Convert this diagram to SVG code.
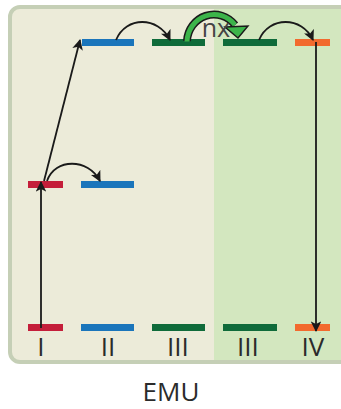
<svg xmlns="http://www.w3.org/2000/svg" width="341" height="409" viewBox="0 0 341 409">
<defs>
<marker id="ah" viewBox="0 0 10 10" refX="9" refY="5" markerWidth="6.5" markerHeight="6" orient="auto" markerUnits="strokeWidth">
<path d="M0,0 L10,5 L0,10 L2.5,5 Z" fill="#1a1a1a"/>
</marker>
<clipPath id="pc"><rect x="10" y="7" width="345" height="355" rx="10"/></clipPath>
</defs>
<style>
.bar{stroke:none}
.red{fill:#c41e3a}
.blue{fill:#1a75bb}
.dg{fill:#0f6b3a}
.or{fill:#f26a2e}
.lbl{font-family:"Open Sans","Liberation Sans",sans-serif;font-size:26px;fill:#2b2b2b;text-anchor:middle}
.conn{fill:none;stroke:#1a1a1a;stroke-width:1.8;marker-end:url(#ah)}
</style>
<g id="panel">
<g clip-path="url(#pc)">
<rect x="10" y="7" width="345" height="355" fill="#ecebd9"/>
<rect x="214" y="7" width="141" height="355" fill="#d3e7bf"/>
</g>
<rect x="10" y="7" width="345" height="355" rx="10" fill="none" stroke="#c5cfb6" stroke-width="4"/>
</g>
<g id="bars">
<rect id="b-I-top" class="bar red" x="28" y="181" width="35" height="7"/>
<rect id="b-II-mid" class="bar blue" x="81" y="181" width="53" height="7"/>
<rect id="b-II-top" class="bar blue" x="82" y="39" width="52" height="7"/>
<rect id="b-III-top" class="bar dg" x="152" y="39" width="53" height="7"/>
<rect id="b-III2-top" class="bar dg" x="223" y="39" width="54" height="7"/>
<rect id="b-IV-top" class="bar or" x="295" y="39" width="35" height="7"/>
<rect id="b-I" class="bar red" x="28" y="324" width="35" height="7"/>
<rect id="b-II" class="bar blue" x="81" y="324" width="53" height="7"/>
<rect id="b-III" class="bar dg" x="152" y="324" width="53" height="7"/>
<rect id="b-III2" class="bar dg" x="223" y="324" width="54" height="7"/>
<rect id="b-IV" class="bar or" x="295" y="324" width="35" height="7"/>
</g>
<g id="connectors">
<path class="conn" d="M41,328 L41,182"/>
<path class="conn" d="M44,181 L80,40"/>
<path class="conn" d="M47,181 C55,158 88,158 100,181"/>
<path class="conn" d="M116,40 C126,16 158,16 170,40"/>
<path class="conn" d="M259,40 C269,16 302,16 313,40"/>
<path class="conn" d="M316,42 L316,331"/>
<g id="nx-arrow">
<path d="M187,41 A27,28 0 0 1 235,25" fill="none" stroke="#1a1a1a" stroke-width="8"/>
<path d="M187,41.5 A27,28 0 0 1 235,25" fill="none" stroke="#3cb44a" stroke-width="5"/>
<polygon points="225,27 248,26 238,38" fill="#3cb44a" stroke="#1a1a1a" stroke-width="1.4" stroke-linejoin="miter"/>
</g>
</g>
<g id="labels">
<text class="lbl" x="216" y="37" style="font-size:25px;fill:#444">nx</text>
<text class="lbl" x="41" y="356">I</text>
<text class="lbl" x="108" y="356">II</text>
<text class="lbl" x="178" y="356">III</text>
<text class="lbl" x="248" y="356">III</text>
<text class="lbl" x="313" y="356">IV</text>
<text class="lbl" x="171" y="401">EMU</text>
</g>
</svg>
